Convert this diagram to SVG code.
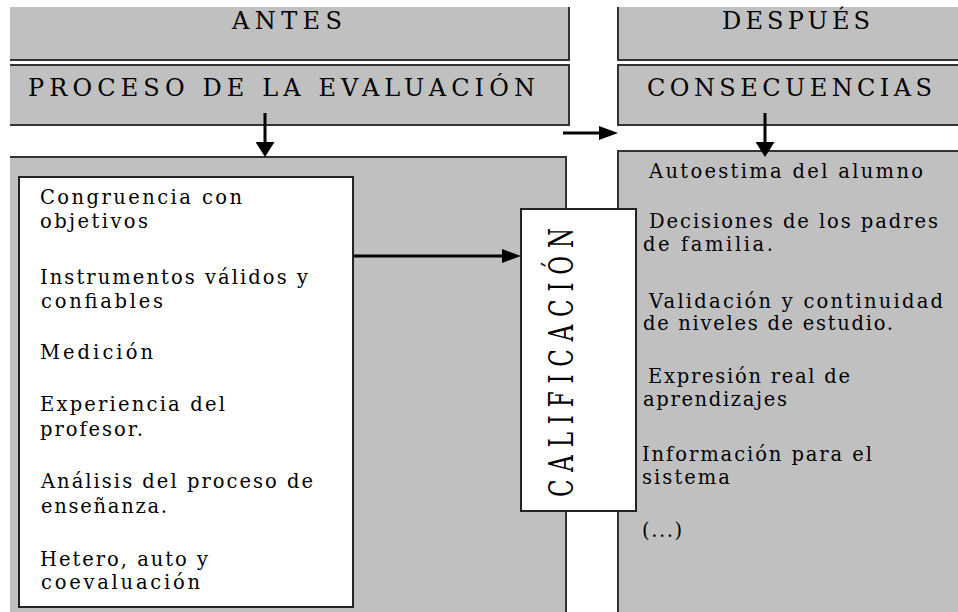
<svg xmlns="http://www.w3.org/2000/svg" width="958" height="612" viewBox="0 0 958 612">
<style>
 .panel{fill:#c0c0c0;stroke:none;}
 .edge{fill:none;stroke:#333;stroke-width:2;}
 .wbox{fill:#fff;stroke:#222;stroke-width:2;}
 text{font-family:"DejaVu Serif","Liberation Serif",serif;fill:#000;}
 .h{font-size:24px;}
 .b{font-size:19.5px;}
 .v{font-size:23px;}
 .conn{stroke:#000;stroke-width:3;fill:none;}
</style>
<defs>
 <marker id="ahv" markerUnits="userSpaceOnUse" viewBox="0 0 15 19" refX="0" refY="9.5" markerWidth="15" markerHeight="19" orient="auto">
  <path d="M0,0 L15,9.5 L0,19 z" fill="#000"/>
 </marker>
 <marker id="ahh" markerUnits="userSpaceOnUse" viewBox="0 0 19 14" refX="0" refY="7" markerWidth="19" markerHeight="14" orient="auto">
  <path d="M0,0 L19,7 L0,14 z" fill="#000"/>
 </marker>
</defs>
<rect width="958" height="612" fill="#fff"/>

<g id="antes">
 <rect class="panel" x="10" y="7" width="559" height="53"/>
 <path class="edge" d="M569,7 V60 H10"/>
 <text class="h" x="232" y="29" textLength="110" lengthAdjust="spacing">ANTES</text>
</g>
<g id="proceso">
 <rect class="panel" x="10" y="65" width="559" height="60"/>
 <path class="edge" d="M10,65 H569 V125 H10"/>
 <text class="h" x="28" y="96" textLength="507" lengthAdjust="spacing">PROCESO DE LA EVALUACIÓN</text>
</g>
<g id="despues">
 <rect class="panel" x="618" y="7" width="340" height="53"/>
 <path class="edge" d="M618,7 V60 H958"/>
 <text class="h" x="722" y="29" textLength="148" lengthAdjust="spacing">DESPUÉS</text>
</g>
<g id="consecuencias">
 <rect class="panel" x="618" y="65" width="340" height="60"/>
 <path class="edge" d="M958,65 H618 V125 H958"/>
 <text class="h" x="647" y="96" textLength="285" lengthAdjust="spacing">CONSECUENCIAS</text>
</g>

<g id="panel-antes">
 <rect class="panel" x="10" y="157" width="556" height="455"/>
 <path class="edge" d="M10,157 H566 V612"/>
</g>
<g id="panel-despues">
 <rect class="panel" x="618" y="151" width="340" height="461"/>
 <path class="edge" d="M958,151 H618 V612"/>
 <text class="b" x="649" y="178" textLength="274" lengthAdjust="spacing">Autoestima del alumno</text>
 <text class="b" x="649" y="228" textLength="289" lengthAdjust="spacing">Decisiones de los padres</text>
 <text class="b" x="643" y="251" textLength="130" lengthAdjust="spacing">de familia.</text>
 <text class="b" x="649" y="308" textLength="294" lengthAdjust="spacing">Validación y continuidad</text>
 <text class="b" x="643" y="330" textLength="250" lengthAdjust="spacing">de niveles de estudio.</text>
 <text class="b" x="648" y="383" textLength="202" lengthAdjust="spacing">Expresión real de</text>
 <text class="b" x="643" y="406" textLength="144" lengthAdjust="spacing">aprendizajes</text>
 <text class="b" x="642" y="461" textLength="230" lengthAdjust="spacing">Información para el</text>
 <text class="b" x="642" y="484" textLength="88" lengthAdjust="spacing">sistema</text>
 <text class="b" x="642" y="537" textLength="40" lengthAdjust="spacing">(...)</text>
</g>

<g id="criterios">
 <rect class="wbox" x="19" y="177" width="334" height="430"/>
 <text class="b" x="40" y="204" textLength="202" lengthAdjust="spacing">Congruencia con</text>
 <text class="b" x="40" y="228" textLength="108" lengthAdjust="spacing">objetivos</text>
 <text class="b" x="40" y="284" textLength="268" lengthAdjust="spacing">Instrumentos válidos y</text>
 <text class="b" x="41" y="308" textLength="122" lengthAdjust="spacing">confiables</text>
 <text class="b" x="40" y="359" textLength="113" lengthAdjust="spacing">Medición</text>
 <text class="b" x="40" y="411" textLength="185" lengthAdjust="spacing">Experiencia del</text>
 <text class="b" x="40" y="436" textLength="103" lengthAdjust="spacing">profesor.</text>
 <text class="b" x="41" y="488" textLength="272" lengthAdjust="spacing">Análisis del proceso de</text>
 <text class="b" x="41" y="513" textLength="126" lengthAdjust="spacing">enseñanza.</text>
 <text class="b" x="40" y="566" textLength="168" lengthAdjust="spacing">Hetero, auto y</text>
 <text class="b" x="41" y="589" textLength="159" lengthAdjust="spacing">coevaluación</text>
</g>

<g id="connectors">
 <line class="conn" x1="265" y1="113" x2="265" y2="142" marker-end="url(#ahv)"/>
 <line class="conn" x1="765" y1="113" x2="765" y2="142" marker-end="url(#ahv)"/>
 <line class="conn" x1="563" y1="133" x2="599" y2="133" marker-end="url(#ahh)"/>
 <line class="conn" x1="354" y1="256" x2="502" y2="256" marker-end="url(#ahh)"/>
</g>

<g id="calificacion">
 <rect class="wbox" x="521" y="209" width="115" height="302"/>
 <text class="v" transform="translate(573,497) rotate(-90) scale(1,1.45)" x="0" y="0" textLength="269" lengthAdjust="spacing">CALIFICACIÓN</text>
</g>
</svg>
